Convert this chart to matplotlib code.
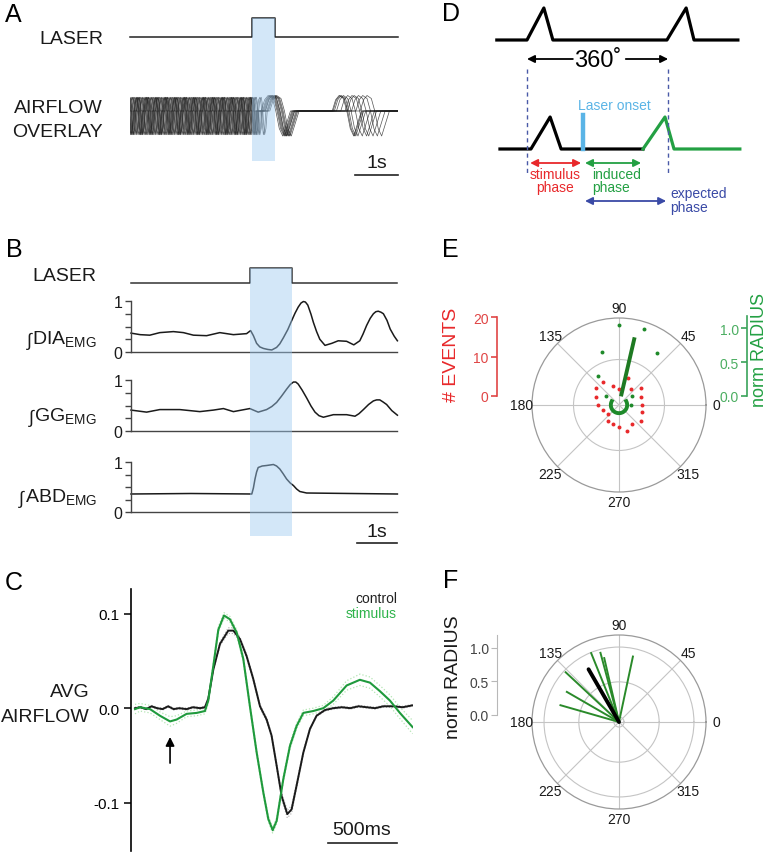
import numpy as np
import matplotlib
matplotlib.use("Agg")
import matplotlib.pyplot as plt
import matplotlib.transforms as mtransforms
from matplotlib.patches import Rectangle

plt.rcParams['font.family'] = ['Liberation Sans', 'DejaVu Sans']

W, H = 768, 853

# ---- A: laser + airflow overlay (time in s) ----
laser_a_t = [0, 2.84, 2.84, 3.37, 3.37, 6.23]
laser_a_v = [0, 0, 1, 1, 0, 0]
fast_t = [0.00, 0.03, 0.06, 0.09, 0.11, 0.14, 0.17, 0.20]
fast_v = [0.0, 0.45, 0.55, 0.25, -0.4, -0.95, -0.7, 0.0]
slow_t = [0.00, 0.08, 0.16, 0.26, 0.34, 0.42, 0.50, 0.58, 0.68]
slow_v = [0.0, 0.45, 0.62, 0.50, 0.0, -0.7, -1.0, -0.55, 0.0]
pre_onsets = [-0.22, 0.00, 0.22, 0.44, 0.66, 0.88, 1.10, 1.32, 1.54, 1.76, 1.98, 2.20, 2.42, 2.64, 2.86]
sweep_shift = [0.00, 0.11, 0.05, 0.16, 0.02, 0.13, 0.08, 0.19, 0.10, 0.15]
post1 = [3.10, 3.15, 3.05, 3.20, 3.12, 3.25, 3.08, 3.18, 3.22, 3.14]
post2 = [4.75, 5.05, 4.70, 5.25, 4.90, 5.35, 4.80, 5.00, 5.15, 4.72]

# ---- B: integrated EMG (time in s) ----
laser_b_t = [0, 2.97, 2.97, 4.03, 4.03, 6.65]
laser_b_v = [0, 0, 1, 1, 0, 0]
dia_t = [0, 0.23, 0.47, 0.72, 1.06, 1.31, 1.56, 1.89, 2.22, 2.56, 2.89, 2.99, 3.06, 3.14, 3.22, 3.31, 3.42,
         3.52, 3.64, 3.72, 3.81, 3.92, 4.02, 4.10, 4.18, 4.25, 4.31, 4.36, 4.42, 4.50, 4.56, 4.64, 4.72,
         4.85, 5.02, 5.18, 5.39, 5.57, 5.72, 5.80, 5.89, 5.98, 6.06, 6.12, 6.18, 6.25, 6.31, 6.40, 6.48,
         6.58, 6.66]
dia_v = [0.37, 0.34, 0.33, 0.38, 0.40, 0.38, 0.33, 0.32, 0.38, 0.34, 0.36, 0.42, 0.32, 0.17, 0.10, 0.07,
         0.05, 0.04, 0.09, 0.16, 0.28, 0.44, 0.62, 0.76, 0.88, 0.96, 0.99, 0.98, 0.92, 0.74, 0.58,
         0.40, 0.25, 0.13, 0.17, 0.22, 0.21, 0.14, 0.22, 0.35, 0.52, 0.66, 0.75, 0.79, 0.80, 0.78,
         0.75, 0.62, 0.45, 0.31, 0.22]
gg_t = [0, 0.39, 0.72, 1.22, 1.72, 2.06, 2.31, 2.56, 2.97, 3.18, 3.39, 3.52, 3.64, 3.76, 3.89, 3.98,
        4.06, 4.12, 4.18, 4.28, 4.39, 4.50, 4.60, 4.70, 4.81, 5.06, 5.39, 5.60, 5.70, 5.81, 5.94,
        6.06, 6.14, 6.22, 6.30, 6.39, 6.52, 6.66]
gg_v = [0.41, 0.37, 0.42, 0.42, 0.38, 0.41, 0.44, 0.38, 0.44, 0.37, 0.42, 0.48, 0.56, 0.68, 0.82, 0.91,
        0.96, 0.96, 0.92, 0.80, 0.65, 0.49, 0.37, 0.30, 0.27, 0.32, 0.32, 0.29, 0.34, 0.42, 0.52,
        0.59, 0.61, 0.61, 0.57, 0.52, 0.40, 0.31]
abd_t = [0, 1.5, 3.02, 3.06, 3.10, 3.14, 3.18, 3.28, 3.39, 3.56, 3.64, 3.72, 3.80, 3.89, 3.98, 4.06,
         4.14, 4.22, 4.39, 5.5, 6.66]
abd_v = [0.36, 0.37, 0.36, 0.48, 0.66, 0.80, 0.89, 0.92, 0.93, 0.95, 0.92, 0.86, 0.77, 0.66, 0.58,
         0.53, 0.46, 0.41, 0.38, 0.37, 0.36]

# ---- C: average airflow (time in ms) ----
control_t = [0, 40, 80, 120, 160, 200, 240, 280, 320, 374, 420, 471, 507, 531, 568, 616, 676, 713, 761,
             809, 857, 906, 954, 990, 1027, 1063, 1104, 1135, 1171, 1220, 1268, 1316, 1377, 1437,
             1500, 1560, 1620, 1679, 1740, 1800, 1872, 1940, 2012]
control_v = [0.0, 0.001, -0.001, 0.002, 0.0, -0.001, 0.002, -0.001, 0.0, -0.001, 0.001, 0.0, 0.001, 0.01,
             0.041, 0.068, 0.082, 0.082, 0.073, 0.055, 0.031, 0.002, -0.012, -0.029, -0.061, -0.093,
             -0.112, -0.107, -0.082, -0.047, -0.022, -0.008, -0.002, 0.0, 0.001, 0.0, 0.002, 0.001,
             0.0, 0.002, 0.002, 0.001, 0.003]
control_sem = [0.001] * 14 + [0.001, 0.002, 0.003, 0.003, 0.002, 0.002, 0.002, 0.002, 0.002, 0.002,
                              0.003, 0.003, 0.004, 0.004, 0.003, 0.002] + [0.001] * 13
stim_t = [0, 36, 109, 181, 254, 302, 374, 447, 507, 531, 568, 604, 645, 688, 737, 785, 833, 882, 930,
          966, 998, 1027, 1075, 1123, 1171, 1220, 1292, 1365, 1437, 1534, 1630, 1703, 1775, 1848,
          1920, 2012]
stim_v = [-0.001, 0.001, -0.001, -0.008, -0.014, -0.012, -0.006, -0.005, -0.003, 0.008, 0.045, 0.083,
          0.098, 0.094, 0.080, 0.052, 0.002, -0.047, -0.089, -0.117, -0.129, -0.119, -0.075, -0.040,
          -0.019, -0.005, -0.003, 0.0, 0.008, 0.024, 0.030, 0.027, 0.018, 0.008, -0.005, -0.020]
stim_sem = [0.005, 0.004, 0.004, 0.004, 0.005, 0.004, 0.003, 0.003, 0.003, 0.003, 0.003, 0.003,
            0.003, 0.003, 0.003, 0.003, 0.003, 0.003, 0.003, 0.003, 0.003, 0.003, 0.003, 0.003,
            0.003, 0.003, 0.003, 0.003, 0.004, 0.005, 0.006, 0.006, 0.006, 0.006, 0.006, 0.007]
arrow_ms = 254

# ---- D: schematic (phase in degrees, height 0..1) ----
d_top_deg = [-77, 0, 43, 66, 357, 406, 426, 538]
d_top_v = [0, 0, 1, 0, 0, 1, 0, 0]
d_bot_deg = [-69, 10, 59, 87, 296]
d_bot_v = [0, 0, 1, 0, 0]
d_new_deg = [296, 352, 375, 543]
d_new_v = [0, 1, 0, 0]
laser_onset_deg = 143
cycle_deg = [0, 360]
stim_phase = [8, 138]
induced_phase = [148, 291]
expected_phase = [148, 355]

# ---- E: phase histogram / radii ----
theta_ticks = [0, 45, 90, 135, 180, 225, 270, 315]
red_deg = [125, 107, 71, 144, 90, 54, 37, 162, 19, 179, 1, 197, 342, 220, 234, 252, 305, 325, 270, 288]
red_n = [7.2, 5.1, 7.2, 7.3, 4.1, 5.0, 7.1, 6.2, 6.0, 5.2, 5.9, 4.1, 6.0, 3.5, 4.9, 5.0, 5.9, 6.9, 5.6, 6.8]
green_deg = [90, 72, 108, 54, 126, 145, 36, 2]
green_r = [1.18, 1.17, 0.82, 0.94, 0.53, 0.24, 0.23, 0.17]
mean_deg, mean_r0, mean_r1 = 77, 0.13, 1.02
arc_deg = [152, 388]
arc_r = 0.12

# ---- F: mean vectors per animal ----
f_deg = [78, 112, 105, 103, 137, 150, 164]
f_r = [1.00, 1.11, 1.07, 0.98, 1.09, 0.90, 0.91]
f_mean_deg, f_mean_r = 120, 0.91

fig = plt.figure(figsize=(W / 100, H / 100), dpi=100)
renderer = fig.canvas.get_renderer()


def box(x0, y0, x1, y1, **kw):
    return fig.add_axes([x0 / W, 1 - y1 / H, (x1 - x0) / W, (y1 - y0) / H], **kw)


canvas = box(0, 0, W, H)
canvas.set_xlim(0, W)
canvas.set_ylim(H, 0)
canvas.axis('off')
canvas.set_zorder(10)
canvas.patch.set_alpha(0)

shade = '#9ecaf0'
txt = dict(fontsize=14, color='#1a1a1a')

# ---------------- A ----------------
ax = box(130, 19, 398, 38)
ax.set_xlim(0, 6.23)
ax.set_ylim(0, 1)
ax.axis('off')
ax.plot(laser_a_t, laser_a_v, color='#222222', lw=1.1, clip_on=False)

ax_af = box(130, 90, 398, 145)
ax_af.set_xlim(0, 6.23)
ax_af.set_ylim(-1.32, 0.88)
ax_af.axis('off')
for i in range(len(sweep_shift)):
    t, v = [-0.5], [0.0]
    for o in pre_onsets:
        o = o + sweep_shift[i]
        if o + fast_t[-1] > post1[i]:
            break
        t += [o + d for d in fast_t]
        v += fast_v
    for o in (post1[i], post2[i]):
        t += [o + d for d in slow_t]
        v += slow_v
    t.append(7)
    v.append(0)
    ax_af.plot(t, v, color='#1a1a1a', lw=0.5, alpha=0.75)

tr = mtransforms.blended_transform_factory(ax_af.transData, canvas.transData)
canvas.add_patch(Rectangle((laser_a_t[1], 19), laser_a_t[3] - laser_a_t[1], 143,
                           transform=tr, color=shade, alpha=0.45, lw=0, clip_on=False))
canvas.plot([5.23, 6.23], [176, 176], transform=tr, color='#222222', lw=1.2, clip_on=False)
canvas.text(377, 168, '1s', ha='center', va='baseline', **txt)
canvas.text(103, 44, 'LASER', ha='right', va='baseline', **txt)
canvas.text(103, 113, 'AIRFLOW', ha='right', va='baseline', **txt)
canvas.text(103, 137, 'OVERLAY', ha='right', va='baseline', **txt)

# ---------------- B ----------------
ax = box(131, 269, 397, 284)
ax.set_xlim(0, 6.65)
ax.set_ylim(0, 1)
ax.axis('off')
ax.plot(laser_b_t, laser_b_v, color='#333333', lw=1.1, clip_on=False)

emg = [(302, 353, dia_t, dia_v, 'DIA', 345),
       (381, 432, gg_t, gg_v, 'GG', 422),
       (463, 513, abd_t, abd_v, 'ABD', 503)]
for y0, y1, t, v, name, ly in emg:
    ax = box(131, y0, 397, y1)
    ax.set_xlim(0, 6.65)
    ax.set_ylim(0, 1)
    ax.plot(t, v, color='#1a1a1a', lw=1.1, clip_on=False)
    for s in ('top', 'right'):
        ax.spines[s].set_visible(False)
    for s in ('left', 'bottom'):
        ax.spines[s].set_color('#444444')
        ax.spines[s].set_linewidth(1.0)
    ax.set_xticks([])
    ax.set_yticks([0, 0.25, 0.5, 0.75, 1])
    ax.set_yticklabels(['0', '', '', '', '1'])
    ax.tick_params(axis='y', length=4, width=1, color='#444444', labelsize=11.5, pad=2,
                   labelcolor='#1a1a1a')
    lab = canvas.text(97, ly, name + r'$_{\mathregular{EMG}}$', ha='right', va='baseline', **txt)
    bb = lab.get_window_extent(renderer)
    canvas.text(bb.x0 - 1, H - ly - 1, '∫', ha='right', va='baseline', fontsize=13,
                color='#1a1a1a', transform=None)
    ax_b = ax

trb = mtransforms.blended_transform_factory(ax_b.transData, canvas.transData)
canvas.add_patch(Rectangle((laser_b_t[1], 269), laser_b_t[3] - laser_b_t[1], 268,
                           transform=trb, color=shade, alpha=0.45, lw=0, clip_on=False))
canvas.plot([5.65, 6.65], [544, 544], transform=trb, color='#222222', lw=1.2, clip_on=False)
canvas.text(377, 537, '1s', ha='center', va='baseline', **txt)
canvas.text(96, 281, 'LASER', ha='right', va='baseline', **txt)

# ---------------- C ----------------
ax_c = box(131, 590, 413, 852)
ax_c.set_xlim(-29, 2015)
ax_c.set_ylim(-0.151, 0.126)
for s in ('top', 'right', 'bottom'):
    ax_c.spines[s].set_visible(False)
ax_c.spines['left'].set_linewidth(1.2)
ax_c.set_xticks([])
ax_c.set_yticks([-0.1, 0.0, 0.1])
ax_c.set_yticklabels(['-0.1', '0.0', '0.1'])
ax_c.tick_params(axis='y', length=5, width=1.1, labelsize=11, pad=3)
cs_up = [a + b for a, b in zip(control_v, control_sem)]
cs_dn = [a - b for a, b in zip(control_v, control_sem)]
ss_up = [a + b for a, b in zip(stim_v, stim_sem)]
ss_dn = [a - b for a, b in zip(stim_v, stim_sem)]
ax_c.plot(stim_t, ss_up, color='#b4e6b4', lw=0.9, ls=':')
ax_c.plot(stim_t, ss_dn, color='#b4e6b4', lw=0.9, ls=':')
ax_c.plot(control_t, cs_up, color='#aaaaaa', lw=0.8, ls=':')
ax_c.plot(control_t, cs_dn, color='#aaaaaa', lw=0.8, ls=':')
ax_c.plot(control_t, control_v, color='#1a1a1a', lw=1.4)
ax_c.plot(stim_t, stim_v, color='#1f9a3c', lw=1.5)
ax_c.annotate('', xy=(arrow_ms, -0.0275), xytext=(arrow_ms, -0.061),
              arrowprops=dict(arrowstyle='-|>', color='black', lw=1.2, mutation_scale=13))
trc = mtransforms.blended_transform_factory(ax_c.transData, canvas.transData)
canvas.plot([1399, 1899], [844, 844], transform=trc, color='#222222', lw=1.2, clip_on=False)
canvas.text(362, 835, '500ms', ha='center', va='baseline', **txt)
canvas.text(397, 603, 'control', ha='right', va='baseline', fontsize=10, color='#222222')
canvas.text(397, 618, 'stimulus', ha='right', va='baseline', fontsize=10, color='#2db34a')
canvas.text(90, 697, 'AVG', ha='right', va='baseline', **txt)
canvas.text(90, 722, 'AIRFLOW', ha='right', va='baseline', **txt)

# ---------------- D ----------------
ax_d = box(490, 0, 745, 215)
ax_d.set_xlim((490 - 527) / 0.392, (745 - 527) / 0.392)
ax_d.set_ylim(215, 0)
ax_d.axis('off')
amp = 32
ax_d.plot(d_top_deg, [41 - amp * v for v in d_top_v], color='black', lw=2.3)
ax_d.plot(d_bot_deg, [150 - amp * v for v in d_bot_v], color='black', lw=2.3)
ax_d.plot(d_new_deg, [150 - amp * v for v in d_new_v], color='#23a043', lw=2.3)
for c in cycle_deg:
    ax_d.plot([c, c], [70, 174], color='#4a5aa8', lw=1.0, ls=(0, (3, 2.5)))
ax_d.plot([laser_onset_deg, laser_onset_deg], [116, 150], color='#5ab4e6', lw=3.2)
ax_d.text(222, 106, 'Laser onset', ha='center', va='center', fontsize=10, color='#5ab4e6')


def darrow(x0, x1, y, col, style='<|-|>'):
    ax_d.annotate('', xy=(x1, y), xytext=(x0, y),
                  arrowprops=dict(arrowstyle=style, color=col, lw=1.3, mutation_scale=11,
                                  shrinkA=0, shrinkB=0))


darrow(117, cycle_deg[0], 60, 'black', '-|>')
darrow(252, cycle_deg[1], 60, 'black', '-|>')
ax_d.text(180, 61, '360˚', ha='center', va='center', fontsize=17, color='black')
darrow(stim_phase[0], stim_phase[1], 164, '#e8282b')
darrow(induced_phase[0], induced_phase[1], 164, '#23a043')
darrow(expected_phase[0], expected_phase[1], 202, '#3a4aa6')
ax_d.text(71, 181.5, 'stimulus\nphase', ha='center', va='center', fontsize=10,
          color='#e8282b', linespacing=0.95)
ax_d.text(166, 181.5, 'induced\nphase', ha='left', va='center', fontsize=10,
          color='#23a043', linespacing=0.95)
ax_d.text(365, 201, 'expected\nphase', ha='left', va='center', fontsize=10,
          color='#3a4aa6', linespacing=0.95)


# ---------------- E / F polar ----------------
def polar_style(ax, rgrid):
    ax.set_thetagrids(theta_ticks, [''] * len(theta_ticks))
    ax.set_rgrids(rgrid, [''] * len(rgrid))
    ax.grid(color='#c4c4c4', lw=0.8)
    ax.spines['polar'].set_color('#9a9a9a')
    ax.spines['polar'].set_linewidth(0.9)
    rmax = ax.get_ylim()[1]
    for a in theta_ticks:
        ax.text(np.deg2rad(a), rmax * 1.12, str(a), ha='center', va='center', fontsize=10,
                color='#1a1a1a', clip_on=False)


ev_per_norm = 68 / 3.95
ax_e = box(532, 319, 706, 493, projection='polar')
ax_e.set_ylim(0, 22)
polar_style(ax_e, [11.5])
ax_e.scatter(np.deg2rad(red_deg), red_n, s=8, color='#e8292b', lw=0, zorder=3)
ax_e.scatter(np.deg2rad(green_deg), [r * ev_per_norm for r in green_r], s=8, color='#1e8a2a',
             lw=0, zorder=3)
ax_e.plot(np.deg2rad([mean_deg, mean_deg]), [mean_r0 * ev_per_norm, mean_r1 * ev_per_norm],
          color='#1e7a22', lw=2.8, solid_capstyle='butt', zorder=4)
th = np.deg2rad(np.linspace(arc_deg[0], arc_deg[1], 40))
ax_e.plot(th, [arc_r * ev_per_norm] * len(th), color='#1e8a2a', lw=2.8, zorder=4)

ax = box(497, 318, 500, 397)
ax.set_ylim(0, 20)
for s in ('top', 'right', 'bottom'):
    ax.spines[s].set_visible(False)
ax.spines['left'].set_color('#e04545')
ax.spines['left'].set_linewidth(1.2)
ax.patch.set_alpha(0)
ax.set_xticks([])
ax.set_yticks([0, 10, 20])
ax.tick_params(axis='y', length=4, width=1.2, color='#e04545', labelcolor='#e04545',
               labelsize=10, pad=2)
canvas.text(452, 355, '# EVENTS', rotation=90, ha='center', va='center', fontsize=14,
            color='#e8292b')

ax = box(747, 317, 750, 397)
ax.set_ylim(0, 1.18)
for s in ('top', 'right', 'bottom'):
    ax.spines[s].set_visible(False)
ax.spines['left'].set_color('#3aa35a')
ax.spines['left'].set_linewidth(1.2)
ax.patch.set_alpha(0)
ax.set_xticks([])
ax.set_yticks([0, 0.5, 1.0])
ax.set_yticklabels(['0.0', '0.5', '1.0'])
ax.tick_params(axis='y', length=4, width=1.2, color='#3aa35a', labelcolor='#4cae62',
               labelsize=10, pad=2)
canvas.text(759, 350, 'norm RADIUS', rotation=90, ha='center', va='center', fontsize=13,
            color='#23a043')

ax_f = box(532, 636, 706, 810, projection='polar')
ax_f.set_ylim(0, 1.3)
polar_style(ax_f, [0.075, 0.6, 1.12])
for a, r in zip(f_deg, f_r):
    ax_f.plot(np.deg2rad([a, a]), [0, r], color='#2a8a2a', lw=1.4, zorder=3)
ax_f.plot(np.deg2rad([f_mean_deg, f_mean_deg]), [0, f_mean_r], color='black', lw=2.8,
          solid_capstyle='round', zorder=4)

ax = box(497, 636, 500, 716)
ax.set_ylim(0, 1.19)
for s in ('top', 'right', 'bottom'):
    ax.spines[s].set_visible(False)
ax.spines['left'].set_color('#b8b8b8')
ax.patch.set_alpha(0)
ax.set_xticks([])
ax.set_yticks([0, 0.5, 1.0])
ax.set_yticklabels(['0.0', '0.5', '1.0'])
ax.tick_params(axis='y', length=4, color='#b8b8b8', labelcolor='#444444', labelsize=10, pad=2)
canvas.text(453, 677, 'norm RADIUS', rotation=90, ha='center', va='center', fontsize=14,
            color='#1a1a1a')

# panel letters
for lab, x, y in [('A', 5, 22), ('B', 6, 257), ('C', 5, 590),
                  ('D', 442, 21), ('E', 442, 257), ('F', 443, 588)]:
    canvas.text(x, y, lab, ha='left', va='baseline', fontsize=18, color='black')

fig.savefig('out.png', dpi=100)
